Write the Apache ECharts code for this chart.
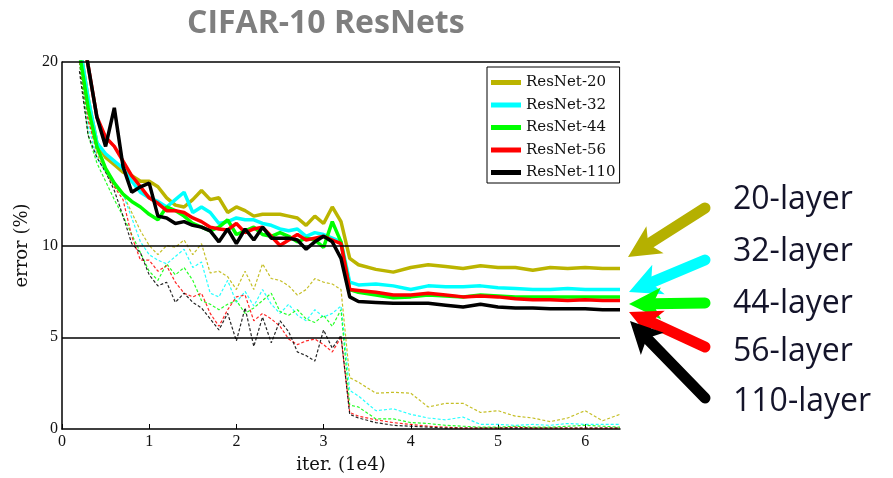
<!DOCTYPE html>
<html>
<head>
<meta charset="utf-8">
<title>CIFAR-10 ResNets</title>
<script src="https://cdn.jsdelivr.net/npm/echarts@6/dist/echarts.min.js"></script>
<style>
  html, body { margin: 0; padding: 0; background: #fff; }
  #main { width: 893px; height: 478px; }
</style>
</head>
<body>
<div id="main"></div>
<script>
// iterations (1e4)
const iters = [0.2, 0.3, 0.4, 0.5, 0.6, 0.7, 0.8, 0.9, 1.0, 1.1, 1.2, 1.3, 1.4, 1.5, 1.6, 1.7,
  1.8, 1.9, 2.0, 2.1, 2.2, 2.3, 2.4, 2.5, 2.6, 2.7, 2.8, 2.9, 3.0, 3.1, 3.2, 3.3,
  3.4, 3.6, 3.8, 4.0, 4.2, 4.4, 4.6, 4.8, 5.0, 5.2, 5.4, 5.6, 5.8, 6.0, 6.2, 6.4];

const names = ["ResNet-20", "ResNet-32", "ResNet-44", "ResNet-56", "ResNet-110"];
const colors = ["#bbb400", "#00ffff", "#00ff00", "#ff0000", "#000000"];

// test error (bold lines)
const test20 = [21, 18, 15.6, 14.8, 14.4, 14.0, 13.8, 13.5, 13.5, 13.2, 12.6, 12.2, 12.1, 12.5, 13.0, 12.5,
  12.6, 11.8, 12.1, 11.9, 11.6, 11.7, 11.7, 11.7, 11.6, 11.5, 11.1, 11.6, 11.2, 12.1, 11.3, 9.3,
  8.95, 8.7, 8.55, 8.8, 8.95, 8.85, 8.75, 8.9, 8.8, 8.8, 8.65, 8.8, 8.75, 8.8, 8.75, 8.75];
const test32 = [21, 18.0, 15.6, 15.0, 14.6, 14.2, 13.5, 12.9, 12.6, 12.4, 12.1, 12.5, 12.9, 11.8, 12.1, 11.8,
  11.2, 11.3, 11.5, 11.4, 11.4, 11.2, 11.1, 10.9, 10.8, 10.9, 10.5, 10.7, 10.6, 10.4, 10.2, 8.0,
  7.85, 7.9, 7.8, 7.6, 7.8, 7.75, 7.75, 7.8, 7.7, 7.65, 7.6, 7.6, 7.65, 7.6, 7.6, 7.6];
const test44 = [20.5, 17.5, 15.4, 14.2, 13.4, 12.8, 12.4, 12.1, 11.7, 11.4, 12.1, 11.9, 11.6, 11.2, 11.0, 10.8,
  11.0, 11.4, 10.6, 10.8, 11.0, 10.6, 10.5, 10.7, 10.5, 10.2, 10.4, 10.3, 9.9, 11.3, 10.2, 7.6,
  7.45, 7.3, 7.15, 7.2, 7.3, 7.25, 7.2, 7.3, 7.25, 7.2, 7.2, 7.2, 7.2, 7.2, 7.2, 7.2];
const test56 = [22, 19.8, 17.0, 15.9, 15.4, 14.6, 13.8, 13.2, 12.6, 12.3, 11.9, 11.9, 11.8, 11.5, 11.3, 11.0,
  10.9, 10.85, 11.2, 10.7, 10.9, 11.0, 10.5, 10.0, 10.3, 10.6, 10.3, 10.4, 10.5, 10.3, 10.1, 7.6,
  7.55, 7.45, 7.3, 7.3, 7.4, 7.3, 7.2, 7.25, 7.2, 7.1, 7.05, 7.05, 7.0, 7.05, 7.0, 7.0];
const test110 = [23, 19.8, 17.0, 15.4, 17.5, 14.3, 12.9, 13.2, 13.4, 11.6, 11.5, 11.2, 11.3, 11.1, 11.0, 10.8,
  10.2, 10.9, 10.1, 10.9, 10.3, 11.0, 10.4, 10.4, 10.4, 10.3, 9.8, 10.2, 10.5, 10.2, 9.3, 7.2,
  6.95, 6.9, 6.85, 6.85, 6.85, 6.75, 6.65, 6.8, 6.65, 6.6, 6.6, 6.55, 6.55, 6.55, 6.5, 6.5];

// training error (thin dashed lines)
const train20 = [20.5, 17.0, 15.0, 14.0, 13.2, 12.8, 11.8, 10.8, 10.0, 9.5, 10.0, 9.9, 10.3, 9.5, 10.1, 8.5,
  8.6, 8.3, 7.6, 8.6, 7.6, 9.0, 8.2, 8.1, 7.8, 7.3, 7.6, 8.2, 8.0, 7.9, 7.6, 2.8,
  2.55, 1.95, 2.0, 1.95, 1.2, 1.4, 1.4, 0.9, 1.0, 0.7, 0.6, 0.4, 0.6, 1.0, 0.45, 0.8];
const train32 = [20, 16.5, 14.8, 14.0, 13.4, 12.8, 11.5, 10.2, 9.5, 9.2, 9.0, 9.4, 9.8, 8.8, 9.1, 7.4,
  7.2, 8.1, 6.9, 7.5, 6.7, 7.6, 6.8, 6.3, 6.8, 6.2, 5.9, 6.5, 6.1, 6.3, 6.7, 2.1,
  1.8, 1.0, 1.1, 0.8, 0.6, 0.5, 0.65, 0.25, 0.25, 0.2, 0.25, 0.2, 0.3, 0.25, 0.25, 0.25];
const train44 = [20, 16.0, 14.5, 13.5, 12.5, 11.6, 10.6, 9.6, 8.6, 8.1, 9.0, 8.4, 8.8, 8.1, 7.0, 6.8,
  6.5, 6.8, 7.0, 6.3, 6.6, 7.0, 7.4, 6.4, 6.2, 6.5, 6.0, 5.8, 6.2, 5.6, 6.5, 1.3,
  1.2, 0.55, 0.55, 0.35, 0.3, 0.2, 0.15, 0.1, 0.1, 0.15, 0.1, 0.1, 0.15, 0.2, 0.15, 0.1];
const train56 = [20, 16.8, 15.2, 14.2, 13.2, 12.5, 10.5, 9.2, 9.2, 8.6, 8.9, 8.0, 7.4, 7.2, 7.4, 6.3,
  5.6, 6.5, 7.2, 7.3, 5.9, 6.3, 6.0, 5.6, 4.9, 4.6, 4.8, 4.9, 4.6, 4.2, 5.0, 0.9,
  0.7, 0.5, 0.35, 0.25, 0.15, 0.1, 0.05, 0.05, 0.05, 0.1, 0.05, 0.05, 0.05, 0.05, 0.05, 0.05];
const train110 = [19.5, 16.0, 14.8, 14.0, 13.0, 11.6, 10.1, 9.6, 8.4, 7.8, 8.0, 6.9, 7.4, 6.9, 6.6, 6.0,
  5.4, 6.3, 4.8, 6.6, 4.5, 6.1, 4.7, 5.9, 5.3, 4.2, 4.0, 3.7, 5.4, 4.4, 5.1, 0.8,
  0.6, 0.35, 0.2, 0.15, 0.1, 0.05, 0.05, 0.05, 0.05, 0.05, 0.05, 0.05, 0.05, 0.05, 0.05, 0.05];

const testData = [test20, test32, test44, test56, test110];
const trainData = [train20, train32, train44, train56, train110];

const yTicks = [0, 5, 10, 20];
const refLines = [5, 10, 20];

// annotation labels on the right
const layerLabels = ["20-layer", "32-layer", "44-layer", "56-layer", "110-layer"];
const arrowTails = [[705, 208], [705, 260], [705, 303], [705, 347], [705, 398]];
const arrowTips = [[628, 257], [629, 292], [629, 304], [629, 312], [630, 321]];
const labelY = [196, 248, 300, 348, 398];

function pairs(ys) {
  return iters.map((x, i) => [x, ys[i]]);
}

function arrow(tail, tip, color) {
  const dx = tip[0] - tail[0], dy = tip[1] - tail[1];
  const len = Math.hypot(dx, dy);
  const ux = dx / len, uy = dy / len;
  const head = 32, half = 16;
  const bx = tip[0] - ux * head, by = tip[1] - uy * head;
  const nx = tip[0] - ux * (head - 8), ny = tip[1] - uy * (head - 8);
  return [
    {
      type: "polyline",
      shape: { points: [tail, [nx, ny]] },
      style: { stroke: color, lineWidth: 11, lineCap: "round", fill: null }
    },
    {
      type: "polygon",
      shape: { points: [tip, [bx - uy * half, by + ux * half], [nx, ny], [bx + uy * half, by - ux * half]] },
      style: { fill: color }
    }
  ];
}

const series = [];

// horizontal reference lines
series.push({
  type: "line",
  data: [],
  z: 1,
  silent: true,
  markLine: {
    silent: true,
    symbol: ["none", "none"],
    label: { show: false },
    lineStyle: { color: "#000", type: "solid", width: 1.5 },
    data: refLines.map(v => ({ yAxis: v }))
  }
});

trainData.forEach((d, i) => {
  series.push({
    name: names[i] + " train",
    type: "line",
    data: pairs(d),
    showSymbol: false,
    z: 2,
    lineStyle: { color: colors[i], width: 1.2, type: [3, 2], opacity: 0.85 },
    itemStyle: { color: colors[i] }
  });
});

testData.forEach((d, i) => {
  series.push({
    name: names[i],
    type: "line",
    data: pairs(d),
    showSymbol: false,
    z: 3,
    lineStyle: { color: colors[i], width: 3.5 },
    itemStyle: { color: colors[i] }
  });
});

const graphic = [];
layerLabels.forEach((t, i) => {
  arrow(arrowTails[i], arrowTips[i], colors[i] === "#bbb400" ? "#b5b000" : colors[i]).forEach(g => graphic.push(g));
  graphic.push({
    type: "text",
    left: 733,
    top: labelY[i] - 12,
    style: { text: t, fontFamily: "Open Sans", fontSize: 32, fill: "#14142a" }
  });
});

const serif = "DejaVu Serif";

const chart = echarts.init(document.getElementById("main"));
chart.setOption({
  animation: false,
  backgroundColor: "#fff",
  title: {
    text: "CIFAR-10 ResNets",
    left: 182,
    top: 3,
    textStyle: { fontFamily: "Open Sans", fontWeight: "bold", fontSize: 32, color: "#7f7f7f" }
  },
  legend: {
    data: names,
    orient: "vertical",
    left: 487,
    top: 67,
    icon: "rect",
    itemWidth: 30,
    itemHeight: 5,
    itemGap: 5.5,
    padding: [7, 4, 2, 4],
    borderColor: "#000",
    borderWidth: 1,
    textStyle: { fontFamily: serif, fontSize: 15, lineHeight: 17, color: "#111" }
  },
  grid: { left: 62, right: 273, top: 62, bottom: 49, outerBoundsMode: "none" },
  xAxis: {
    type: "value",
    min: 0,
    max: 6.4,
    interval: 1,
    name: "iter. (1e4)",
    nameLocation: "middle",
    nameGap: 27,
    nameTextStyle: { fontFamily: serif, fontSize: 18, color: "#111" },
    axisLine: { lineStyle: { color: "#000", width: 1.5 } },
    axisTick: { inside: true, length: 5, lineStyle: { color: "#000" } },
    splitLine: { show: false },
    axisLabel: { showMaxLabel: false, fontFamily: "Liberation Serif", fontSize: 16, color: "#111", margin: 5 }
  },
  yAxis: {
    type: "value",
    min: 0,
    max: 20,
    interval: 5,
    name: "error (%)",
    nameLocation: "middle",
    nameGap: 27,
    nameTextStyle: { fontFamily: serif, fontSize: 18, color: "#111" },
    axisLine: { show: true, lineStyle: { color: "#000", width: 1.5 } },
    axisTick: { show: false },
    splitLine: { show: false },
    axisLabel: {
      fontFamily: "Liberation Serif",
      fontSize: 16,
      color: "#111",
      margin: 4,
      formatter: v => (yTicks.indexOf(v) >= 0 ? String(v) : "")
    }
  },
  series: series,
  graphic: graphic
});
</script>
</body>
</html>
